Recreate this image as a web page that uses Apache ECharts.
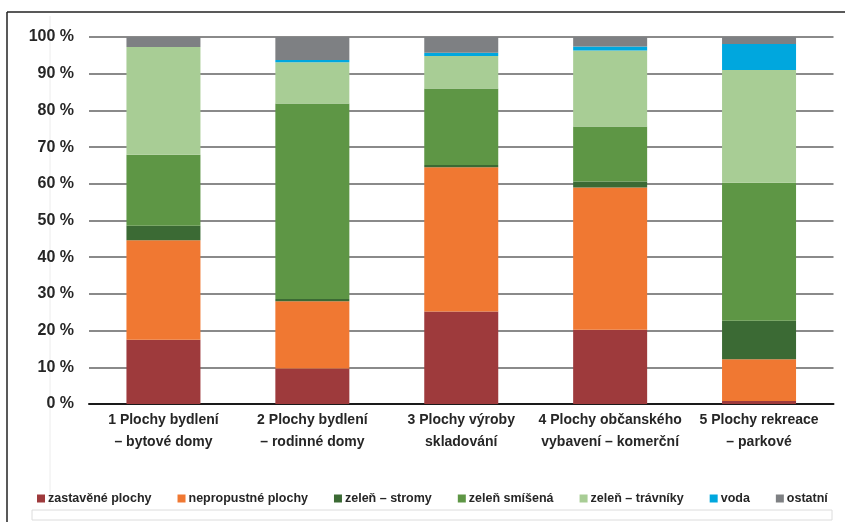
<!DOCTYPE html>
<html>
<head>
<meta charset="utf-8">
<script src="https://cdn.jsdelivr.net/npm/echarts@6/dist/echarts.min.js"></script>
<style>
  html, body { margin: 0; padding: 0; background: #fff; }
  #chart { width: 845px; height: 522px; }
</style>
</head>
<body>
<div id="chart"></div>
<script>
// Land-use categories (two-line labels)
const categories = [
  '1 Plochy bydlení\n– bytové domy',
  '2 Plochy bydlení\n– rodinné domy',
  '3 Plochy výroby\nskladování',
  '4 Plochy občanského\nvybavení – komerční',
  '5 Plochy rekreace\n– parkové'
];

// Share of each surface type, in percent
const zastavenePlochy    = [17.5,  9.7, 25.2, 20.2,  0.8];
const nepropustnePlochy  = [27.1, 18.3, 39.3, 38.8, 11.4];
const zelenStromy        = [ 4.0,  0.6,  0.6,  1.6, 10.5];
const zelenSmisena       = [19.3, 53.3, 20.9, 15.0, 37.6];
const zelenTravniky      = [29.4, 11.2,  8.8, 20.7, 30.7];
const voda               = [ 0.0,  0.6,  0.9,  1.1,  7.1];
const ostatni            = [ 2.7,  6.3,  4.3,  2.6,  1.9];

const seriesNames = ['zastavěné plochy', 'nepropustné plochy', 'zeleň – stromy',
  'zeleň smíšená', 'zeleň – trávníky', 'voda', 'ostatní'];
const seriesData = [zastavenePlochy, nepropustnePlochy, zelenStromy,
  zelenSmisena, zelenTravniky, voda, ostatni];
const seriesColors = ['#9E3A3C', '#F07832', '#3B6A34', '#5E9645', '#A8CD95', '#00A7DE', '#7E8083'];

const FONT = '"Liberation Sans", Arial, sans-serif';
const TEXT = '#262626';

const chart = echarts.init(document.getElementById('chart'), null, { renderer: 'canvas' });

chart.setOption({
  animation: false,
  backgroundColor: '#ffffff',
  color: seriesColors,
  grid: { left: 89, right: 11.5, top: 37, bottom: 118, containLabel: false },
  legend: {
    data: seriesNames,
    left: 32,
    top: 487,
    icon: 'rect',
    itemWidth: 8,
    itemHeight: 8,
    itemGap: 26,
    textStyle: { fontFamily: FONT, fontWeight: 'bold', fontSize: 12.5, color: TEXT, padding: [0, 0, 0, -2] }
  },
  xAxis: {
    type: 'category',
    data: categories,
    axisLine: { show: true, lineStyle: { color: '#1a1a1a', width: 2 } },
    axisTick: { show: false },
    axisLabel: {
      margin: 5,
      interval: 0,
      fontFamily: FONT,
      fontWeight: 'bold',
      fontSize: 14,
      lineHeight: 22,
      color: TEXT,
      align: 'center'
    }
  },
  yAxis: {
    type: 'value',
    min: 0,
    max: 100,
    interval: 10,
    axisLine: { show: false },
    axisTick: { show: false },
    axisLabel: {
      margin: 15,
      formatter: '{value} %',
      fontFamily: FONT,
      fontWeight: 'bold',
      fontSize: 16,
      color: TEXT
    },
    splitLine: { show: true, lineStyle: { color: '#8a8a8a', width: 2 } }
  },
  series: seriesNames.map((name, i) => ({
    name: name,
    type: 'bar',
    stack: 'total',
    barWidth: 74,
    data: seriesData[i],
    itemStyle: { color: seriesColors[i] }
  })),
  graphic: [
    // outer frame
    { type: 'line', shape: { x1: 7, y1: 12, x2: 845, y2: 12 }, style: { stroke: '#222', lineWidth: 1.5 }, silent: true },
    { type: 'line', shape: { x1: 7, y1: 12, x2: 7, y2: 522 }, style: { stroke: '#222', lineWidth: 1.5 }, silent: true },
    // faint inner guides
    { type: 'line', shape: { x1: 50, y1: 16, x2: 50, y2: 505 }, style: { stroke: '#ececec', lineWidth: 1 }, silent: true },
    { type: 'rect', shape: { x: 32, y: 510, width: 800, height: 10 }, style: { fill: 'none', stroke: '#dcdcdc', lineWidth: 1 }, silent: true }
  ]
});
</script>
</body>
</html>
